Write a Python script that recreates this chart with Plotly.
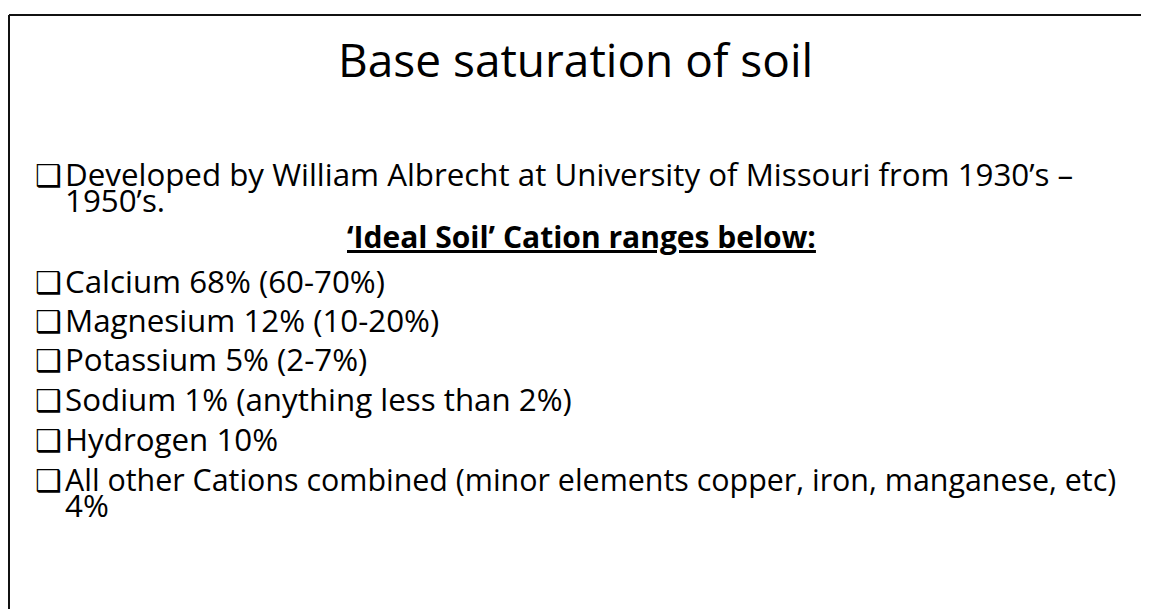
import plotly.graph_objects as go

W, H = 1149, 609
OFF = 8  # default page margin of the html body
FONT = "Open Sans"

title = "Base saturation of soil"
bullet_lines = [
    "Developed by William Albrecht at University of Missouri from 1930\u2019s \u2013",
    "Calcium 68% (60-70%)",
    "Magnesium 12% (10-20%)",
    "Potassium 5% (2-7%)",
    "Sodium 1% (anything less than 2%)",
    "Hydrogen 10%",
    "All other Cations combined (minor elements copper, iron, manganese, etc)",
]
bullet_y = [174, 281, 320, 359, 399, 439, 479]
bullet_size = [31.3, 31.3, 31.3, 31.3, 31.3, 31.3, 30.4]
continuation_lines = ["1950\u2019s.", "4%"]
continuation_y = [200, 505]
heading = "\u2018Ideal Soil\u2019 Cation ranges below:"
heading_y = 236

fig = go.Figure()
ann = []
ann.append(dict(x=575, y=59, text=title, xanchor="center", yanchor="middle",
                font=dict(family=FONT, size=46, color="#000")))
for t, y, s in zip(bullet_lines, bullet_y, bullet_size):
    ann.append(dict(x=33, y=y + 1, text="\u2751", xanchor="left", yanchor="middle",
                    font=dict(family="DejaVu Sans", size=30, color="#000")))
    ann.append(dict(x=63, y=y, text=t, xanchor="left", yanchor="middle",
                    font=dict(family=FONT, size=s, color="#000")))
for t, y in zip(continuation_lines, continuation_y):
    ann.append(dict(x=63, y=y, text=t, xanchor="left", yanchor="middle",
                    font=dict(family=FONT, size=31.3, color="#000")))
ann.append(dict(x=581, y=heading_y, text="<u><b>" + heading + "</b></u>", xanchor="center",
                yanchor="middle", font=dict(family=FONT, size=30, color="#000")))
for a in ann:
    a.update(xref="x", yref="y", showarrow=False)

fig.update_layout(
    width=W, height=H, margin=dict(l=0, r=0, t=0, b=0),
    paper_bgcolor="white", plot_bgcolor="white",
    xaxis=dict(range=[OFF, W + OFF], visible=False, fixedrange=True),
    yaxis=dict(range=[H + OFF, OFF], visible=False, fixedrange=True),
    annotations=ann,
    shapes=[
        dict(type="line", xref="x", yref="y", x0=9, x1=W + OFF, y0=15, y1=15, line=dict(color="#111", width=2)),
        dict(type="line", xref="x", yref="y", x0=9, x1=9, y0=15, y1=H + OFF, line=dict(color="#111", width=2)),
    ],
    showlegend=False,
)
fig.write_html("out.html")
